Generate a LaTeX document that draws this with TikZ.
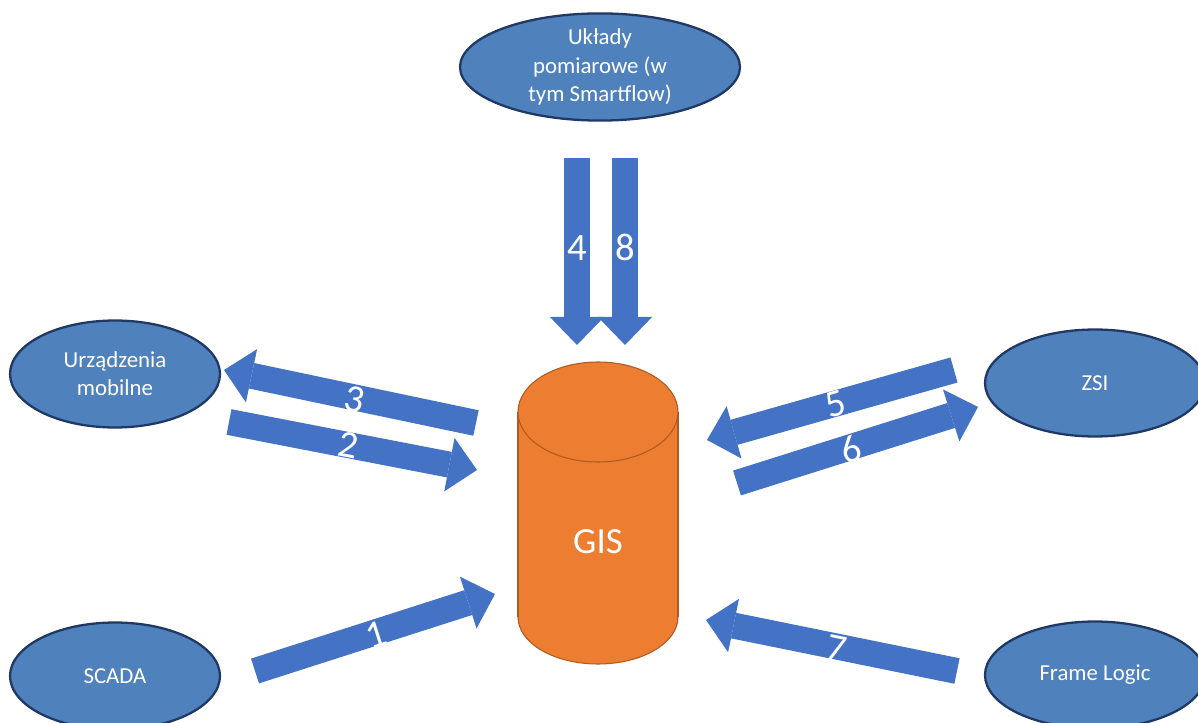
\documentclass[tikz,border=0pt]{standalone}
\usepackage{fontspec}
\setmainfont{Carlito}
\usepackage{xcolor}
\usepackage{tikz}
\usetikzlibrary{shapes.geometric, arrows.meta}

\definecolor{nodeblue}{RGB}{79,129,189}
\definecolor{nodeedge}{RGB}{32,56,100}
\definecolor{arrowblue}{RGB}{68,114,196}
\definecolor{gisorange}{RGB}{237,125,49}
\definecolor{gisedge}{RGB}{174,90,33}

\begin{document}
\begin{tikzpicture}[x=0.02cm, y=-0.02cm,
    system/.style={ellipse, draw=nodeedge, line width=1.3pt, fill=nodeblue, text=white,
        minimum width=5.6cm, minimum height=2.14cm, inner sep=0pt, align=center,
        font=\fontsize{13}{16}\selectfont},
    flow/.style={draw=arrowblue, line width=14.8pt,
        -{Triangle[width=31pt, length=16pt, line width=0pt]}},
    flownum/.style={text=white, font=\fontsize{22}{24}\selectfont, inner sep=0pt}]
    \useasboundingbox (0,0) rectangle (1198,723);

    % Systems
    \node[system] (pomiar) at (600,67) {Układy\\pomiarowe (w\\tym Smartflow)};
    \node[system, minimum width=4.2cm] (mobile) at (115,374) {Urządzenia\\mobilne};
    \node[system, minimum width=4.4cm] (zsi) at (1095,383) {ZSI};
    \node[system, minimum width=4.2cm] (scada) at (115,676) {SCADA};
    \node[system, minimum width=4.4cm] (frame) at (1095,675) {Frame Logic};

    % GIS database (cylinder)
    \fill[gisorange, draw=gisedge, line width=0.6pt] (598,617) ellipse [x radius=80, y radius=47];
    \fill[gisorange] (518,412) rectangle (678,617);
    \draw[gisedge, line width=0.6pt] (518,412) -- (518,617) (678,412) -- (678,617);
    \fill[gisorange, draw=gisedge, line width=0.6pt] (598,412) ellipse [x radius=80, y radius=50];
    \node[text=white, font=\fontsize{21}{24}\selectfont] (gis) at (598,542) {GIS};

    % Arrow ends
    \coordinate (a1s) at (255,671);  \coordinate (a1e) at (495,594);
    \coordinate (a2s) at (229,422);  \coordinate (a2e) at (477,470);
    \coordinate (a3s) at (476,423);  \coordinate (a3e) at (224,370);
    \coordinate (a4s) at (577,158);  \coordinate (a4e) at (577,345);
    \coordinate (a5s) at (954,370);  \coordinate (a5e) at (707,440);
    \coordinate (a6s) at (737,483);  \coordinate (a6e) at (978,407);
    \coordinate (a7s) at (957,671);  \coordinate (a7e) at (706,620);
    \coordinate (a8s) at (625,158);  \coordinate (a8e) at (625,345);

    % Data flows
    \draw[flow] (a1s) -- (a1e) node[flownum, pos=0.5, sloped, yshift=-1pt] {1};
    \draw[flow] (a2s) -- (a2e) node[flownum, pos=0.48, sloped] {2};
    \draw[flow] (a3s) -- (a3e) node[flownum, pos=0.48, sloped, yshift=-1pt] {3};
    \draw[flow] (a4s) -- (a4e) node[flownum, pos=0.48] {4};
    \draw[flow] (a5s) -- (a5e) node[flownum, pos=0.48, sloped] {5};
    \draw[flow] (a6s) -- (a6e) node[flownum, pos=0.47, sloped, yshift=-1pt] {6};
    \draw[flow] (a7s) -- (a7e) node[flownum, pos=0.48, sloped, yshift=-1pt] {7};
    \draw[flow] (a8s) -- (a8e) node[flownum, pos=0.48] {8};
\end{tikzpicture}
\end{document}
